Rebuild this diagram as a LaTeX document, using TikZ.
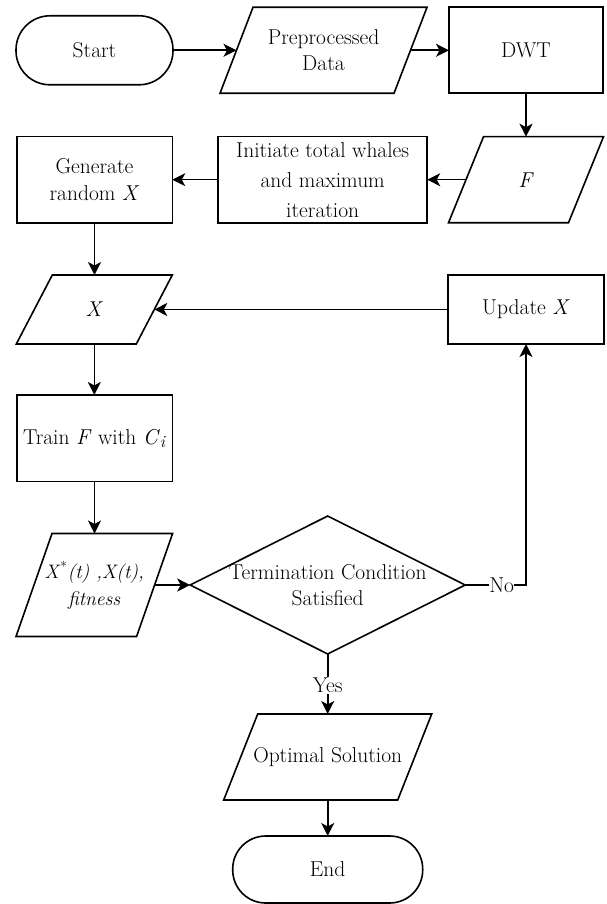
\documentclass[tikz,border=0pt]{standalone}
\usepackage{fontspec}
\usetikzlibrary{arrows.meta,calc}
\newcommand{\paranode}[7]{%
  \node[pnode, minimum width=#4pt, minimum height=#5pt] (#1) at (#2,#3) {#7};
  \draw[shapeline] ([xshift=#6pt]#1.north west) -- ([xshift=#6pt]#1.north east)
     -- ([xshift=-#6pt]#1.south east) -- ([xshift=-#6pt]#1.south west) -- cycle;}
\tikzset{
  base/.style={align=center, inner sep=2pt, outer sep=0pt, font=\fontsize{21.5}{26.4}\selectfont},
  shapeline/.style={draw=black, line width=1.6pt, line join=miter},
  boxnode/.style={base, shapeline, rectangle},
  pnode/.style={base, rectangle, draw=none},
  term/.style={base, shapeline, rectangle, rounded corners=34pt},
  arr/.style={line width=1.6pt, -{Stealth[length=13pt, width=13pt, inset=3.5pt]}},
  lbl/.style={font=\fontsize{21.5}{26.4}\selectfont, fill=white, inner sep=1pt}
}
\begin{document}
\begin{tikzpicture}[x=1pt, y=-1pt]
\useasboundingbox[fill=white] (0,0) rectangle (606,904);
% row 1
\node[term, minimum width=157pt, minimum height=69pt] (start) at (94.5,50.3) {Start};
\paranode{pre}{323.5}{50.3}{174}{86}{16.5}{Preprocessed\\Data}
\node[boxnode, minimum width=154pt, minimum height=86pt] (dwt) at (526,50.3) {DWT};
% row 2
\paranode{f}{526}{179.7}{120}{86}{17.5}{\textit{F}}
\node[boxnode, minimum width=209pt, minimum height=86pt, font=\fontsize{21.5}{30}\selectfont] (init) at (322.7,179.7) {Initiate total whales\\and maximum\\iteration};
\node[boxnode, minimum width=155.6pt, minimum height=86pt] (gen) at (94.5,179.7) {Generate\\random \textit{X}};
% row 3
\paranode{x}{94.3}{309.5}{120}{69}{18}{\textit{X}}
\node[boxnode, minimum width=155.7pt, minimum height=69pt] (upd) at (526,309.5) {Update \textit{X}};
% row 4
\node[boxnode, minimum width=155.6pt, minimum height=86.7pt] (train) at (94.5,438.3) {Train \textit{F} with \textit{C}\raisebox{-0.35ex}{\fontsize{17}{17}\selectfont\textit{i}}};
% row 5
\paranode{xs}{94.3}{585}{120.6}{103}{18}{\fontsize{19.5}{26}\selectfont\textit{X}\textsuperscript{*}\textit{(t) ,X(t),}\\\fontsize{19.5}{26}\selectfont\textit{fitness}}
\node[pnode, minimum width=275pt, minimum height=138pt] (dia) at (327.7,585) {Termination Condition\\Satisfied};
\draw[shapeline] (dia.north) -- (dia.east) -- (dia.south) -- (dia.west) -- cycle;
% row 6
\paranode{opt}{327.7}{757}{174}{86}{17}{Optimal Solution}
\node[term, minimum width=190pt, minimum height=67pt, rounded corners=33pt] (end) at (327.7,869.5) {End};
% connectors
\draw[arr] (start.east) -- (pre.west);
\draw[arr] (pre.east) -- (dwt.west);
\draw[arr] (dwt.south) -- (f.north);
\draw[arr] (f.west) -- (init.east);
\draw[arr] (init.west) -- (gen.east);
\draw[arr] (gen.south) -- (gen.south |- x.north);
\draw[arr] (upd.west) -- (x.east);
\draw[arr] (x.south) -- (x.south |- train.north);
\draw[arr] (train.south) -- (train.south |- xs.north);
\draw[arr] (xs.east) -- (dia.west);
\draw[arr] (dia.south) -- node[lbl, pos=0.52] {Yes} (opt.north);
\draw[arr] (opt.south) -- (end.north);
\draw[arr] (dia.east) -- node[lbl, pos=0.6, inner sep=0pt] {No} (dia.east -| upd.south) -- (upd.south);
\end{tikzpicture}
\end{document}
